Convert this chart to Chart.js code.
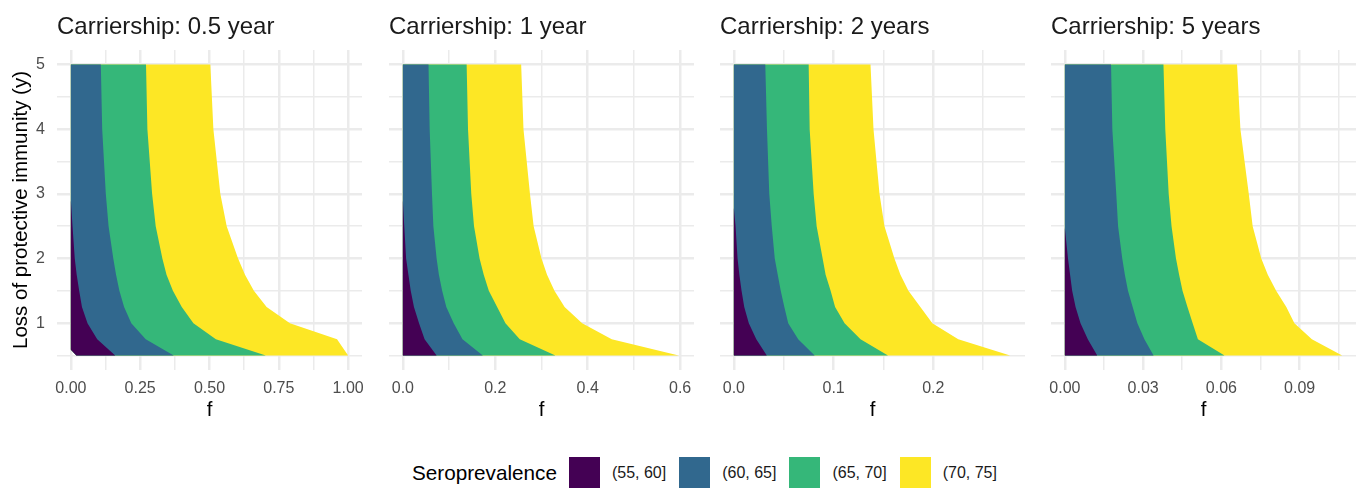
<!DOCTYPE html>
<html>
<head>
<meta charset="utf-8">
<script src="https://cdn.jsdelivr.net/npm/chart.js@4.4.1/dist/chart.umd.min.js"></script>
<style>
    body { margin: 0; background: #fff; width: 1367px; height: 489px; overflow: hidden; position: relative;
           font-family: "Liberation Sans", Arial, sans-serif; }
    .panel { position: absolute; top: 0; height: 440px; }
    #legend { position: absolute; left: 412px; top: 457px; height: 31px; display: flex; align-items: center;
              white-space: nowrap; color: #000; }
    #legend .ltitle { font-size: 20.7px; margin-right: 12px; }
    #legend .key { width: 31px; height: 31px; margin-right: 12px; }
    #legend .lab { font-size: 16px; margin-right: 13px; color: #1A1A1A; }
</style>
</head>
<body>
<div class="panel" id="wrap0"><canvas id="p0"></canvas></div>
<div class="panel" id="wrap1"><canvas id="p1"></canvas></div>
<div class="panel" id="wrap2"><canvas id="p2"></canvas></div>
<div class="panel" id="wrap3"><canvas id="p3"></canvas></div>
<div id="legend"></div>
<script>
// facettes : duree de portage
const carriership = ['0.5 year', '1 year', '2 years', '5 years'];

// niveaux de y (perte d'immunite) ou les frontieres sont lues
const yLevels = [0.5, 0.75, 1, 1.25, 1.5, 1.75, 2, 2.5, 3, 4, 5];

// f de la frontiere entre deux classes, une ligne par facette (null = frontiere sur l'axe f=0)
const edge60 = [
    [0.16, 0.095, 0.06, 0.04, 0.03, 0.021, 0.014, 0.006, null, null, null],
    [0.073, 0.047, 0.035, 0.024, 0.017, 0.012, 0.007, 0.003, null, null, null],
    [0.033, 0.0225, 0.015, 0.0104, 0.0077, 0.0055, 0.0037, 0.0017, null, null, null],
    [0.0124, 0.0088, 0.006, 0.0041, 0.0028, 0.002, 0.0012, null, null, null, null]
];
const edge65 = [
    [0.371, 0.27, 0.218, 0.192, 0.175, 0.163, 0.153, 0.136, 0.126, 0.113, 0.108],
    [0.173, 0.129, 0.11, 0.094, 0.085, 0.078, 0.073, 0.066, 0.063, 0.058, 0.0555],
    [0.081, 0.0645, 0.0545, 0.0506, 0.047, 0.044, 0.041, 0.038, 0.0355, 0.0332, 0.0315],
    [0.034, 0.0305, 0.0278, 0.026, 0.0242, 0.023, 0.022, 0.0204, 0.0197, 0.0182, 0.0177]
];
const edge70 = [
    [0.703, 0.523, 0.442, 0.40, 0.368, 0.345, 0.33, 0.306, 0.293, 0.276, 0.271],
    [0.33, 0.253, 0.222, 0.204, 0.186, 0.175, 0.166, 0.154, 0.148, 0.141, 0.138],
    [0.1545, 0.127, 0.111, 0.1015, 0.097, 0.092, 0.089, 0.083, 0.080, 0.076, 0.075],
    [0.0612, 0.051, 0.049, 0.047, 0.0451, 0.0438, 0.0426, 0.0409, 0.0398, 0.0385, 0.0378]
];
const edge75 = [
    [1.0, 0.96, 0.79, 0.706, 0.66, 0.628, 0.603, 0.562, 0.539, 0.514, 0.503],
    [0.597, 0.452, 0.388, 0.35, 0.328, 0.312, 0.30, 0.283, 0.275, 0.261, 0.256],
    [0.277, 0.225, 0.199, 0.187, 0.175, 0.167, 0.161, 0.151, 0.146, 0.140, 0.137],
    [0.1063, 0.0947, 0.088, 0.0849, 0.081, 0.0778, 0.0753, 0.072, 0.0705, 0.0673, 0.066]
];
// hauteur ou la classe (55, 60] quitte l'axe f = 0
const purpleTop = [2.9, 2.9, 2.78, 2.47];
// coin bas gauche sans valeur (NA)
const cornerF = [0.02, 0, 0, 0];
const cornerY = [0.59, 0.5, 0.5, 0.5];
// etendue des f
const fMax = [1.0, 0.6, 0.278, 0.1063];

const xTickLabels = [
    ['0.00', '0.25', '0.50', '0.75', '1.00'],
    ['0.0', '0.2', '0.4', '0.6'],
    ['0.0', '0.1', '0.2'],
    ['0.00', '0.03', '0.06', '0.09']
];
const yTickLabels = ['1', '2', '3', '4', '5'];

const seroBands = ['(55, 60]', '(60, 65]', '(65, 70]', '(70, 75]'];
const bandColors = ['#440154', '#31688E', '#35B779', '#FDE725'];

// position des panneaux dans la page
const plotLeft = [57, 389, 720, 1051];
const plotWidth = 305;

Chart.defaults.font.family = '"Liberation Sans", Arial, sans-serif';

function near(a, b) {
    return Math.abs(a - b) < 1e-9;
}

// polygone de l'axe f=0 jusqu'a la frontiere (on peint les couches les unes sur les autres)
function edgeShape(p, edge, top) {
    let pts = [{x: cornerF[p], y: yLevels[0]}, {x: 0, y: cornerY[p]}, {x: 0, y: top}];
    for (let i = yLevels.length - 1; i >= 0; i--) {
        if (edge[p][i] === null) {
            continue;
        }
        pts.push({x: edge[p][i], y: yLevels[i]});
    }
    return pts;
}

const facetTitle = {
    id: 'facetTitle',
    afterDraw(chart, args, opts) {
        const ctx = chart.ctx;
        ctx.save();
        ctx.font = '24px "Liberation Sans", Arial, sans-serif';
        ctx.fillStyle = '#1A1A1A';
        ctx.textBaseline = 'alphabetic';
        ctx.textAlign = 'left';
        ctx.fillText(opts.text, chart.chartArea.left, 34);
        ctx.restore();
    }
};

function loadPanel(p) {
    const yMin = yLevels[0], yMax = yLevels[yLevels.length - 1];
    const yPad = (yMax - yMin) * 0.05;
    const xMajor = xTickLabels[p].map(Number);
    const xStep = xMajor[1] - xMajor[0];
    let xTicks = [];
    for (const m of xMajor) {
        xTicks.push(m);
        if (m + xStep / 2 <= fMax[p] * 1.05) {
            xTicks.push(m + xStep / 2);
        }
    }
    const yMajor = yTickLabels.map(Number);
    let yTicks = [];
    for (const m of yMajor) {
        yTicks.push(m - 0.5, m);
    }

    const edges = [edge60, edge65, edge70, edge75];
    let datasets = [];
    for (let k = 0; k < 4; k++) {
        datasets.push({
            label: seroBands[k],
            data: edgeShape(p, edges[k], k === 0 ? purpleTop[p] : yMax),
            showLine: true,
            fill: 'shape',
            backgroundColor: bandColors[k],
            borderColor: 'rgba(0,0,0,0)',
            borderWidth: 0,
            pointRadius: 0,
            tension: 0
        });
    }

    const wrap = document.getElementById('wrap' + p);
    const padL = p === 0 ? 0 : 20;
    const yW = p === 0 ? 57 : 0;
    wrap.style.left = (plotLeft[p] - padL - yW) + 'px';
    wrap.style.width = (padL + yW + plotWidth + 20) + 'px';

    const gridW = (isMajor) => isMajor ? 2.5 : 1.5;

    return new Chart(document.getElementById('p' + p), {
        type: 'scatter',
        data: {datasets: datasets},
        plugins: [facetTitle],
        options: {
            responsive: true,
            maintainAspectRatio: false,
            animation: false,
            layout: {padding: {left: padL, right: 20, top: 50, bottom: 0}},
            plugins: {
                legend: {display: false},
                tooltip: {enabled: false},
                facetTitle: {text: 'Carriership: ' + carriership[p]}
            },
            scales: {
                x: {
                    type: 'linear',
                    min: -fMax[p] * 0.05,
                    max: fMax[p] * 1.05,
                    afterBuildTicks: (s) => { s.ticks = xTicks.map(v => ({value: v})); },
                    afterFit: (s) => { s.height = 70; },
                    ticks: {
                        autoSkip: false, maxRotation: 0, padding: 9, color: '#4D4D4D', font: {size: 16},
                        callback: (v) => {
                            const i = xMajor.findIndex(m => near(m, v));
                            return i >= 0 ? xTickLabels[p][i] : '';
                        }
                    },
                    grid: {
                        color: '#EBEBEB', drawTicks: false,
                        lineWidth: (c) => gridW(xMajor.some(m => near(m, c.tick.value)))
                    },
                    border: {display: false},
                    title: {display: true, text: 'f', color: '#000', font: {size: 20.5}, padding: {top: 4, bottom: 17}}
                },
                y: {
                    type: 'linear',
                    min: yMin - yPad,
                    max: yMax + yPad,
                    afterBuildTicks: (s) => { s.ticks = yTicks.map(v => ({value: v})); },
                    afterFit: (s) => { s.width = yW; },
                    ticks: {
                        display: p === 0, autoSkip: false, padding: 12, color: '#4D4D4D', font: {size: 16},
                        callback: (v) => {
                            const i = yMajor.findIndex(m => near(m, v));
                            return i >= 0 ? yTickLabels[i] : '';
                        }
                    },
                    grid: {
                        color: '#EBEBEB', drawTicks: false,
                        lineWidth: (c) => gridW(yMajor.some(m => near(m, c.tick.value)))
                    },
                    border: {display: false},
                    title: {
                        display: p === 0, text: 'Loss of protective immunity (y)', color: '#000',
                        font: {size: 20.5}, padding: {top: 9, bottom: 0}
                    }
                }
            }
        }
    });
}

for (let p = 0; p < carriership.length; p++) {
    loadPanel(p);
}

// legende commune
const legend = document.getElementById('legend');
let html = '<span class="ltitle">Seroprevalence</span>';
for (let k = 0; k < seroBands.length; k++) {
    html += '<span class="key" style="background:' + bandColors[k] + '"></span>';
    html += '<span class="lab">' + seroBands[k] + '</span>';
}
legend.innerHTML = html;
</script>
</body>
</html>
